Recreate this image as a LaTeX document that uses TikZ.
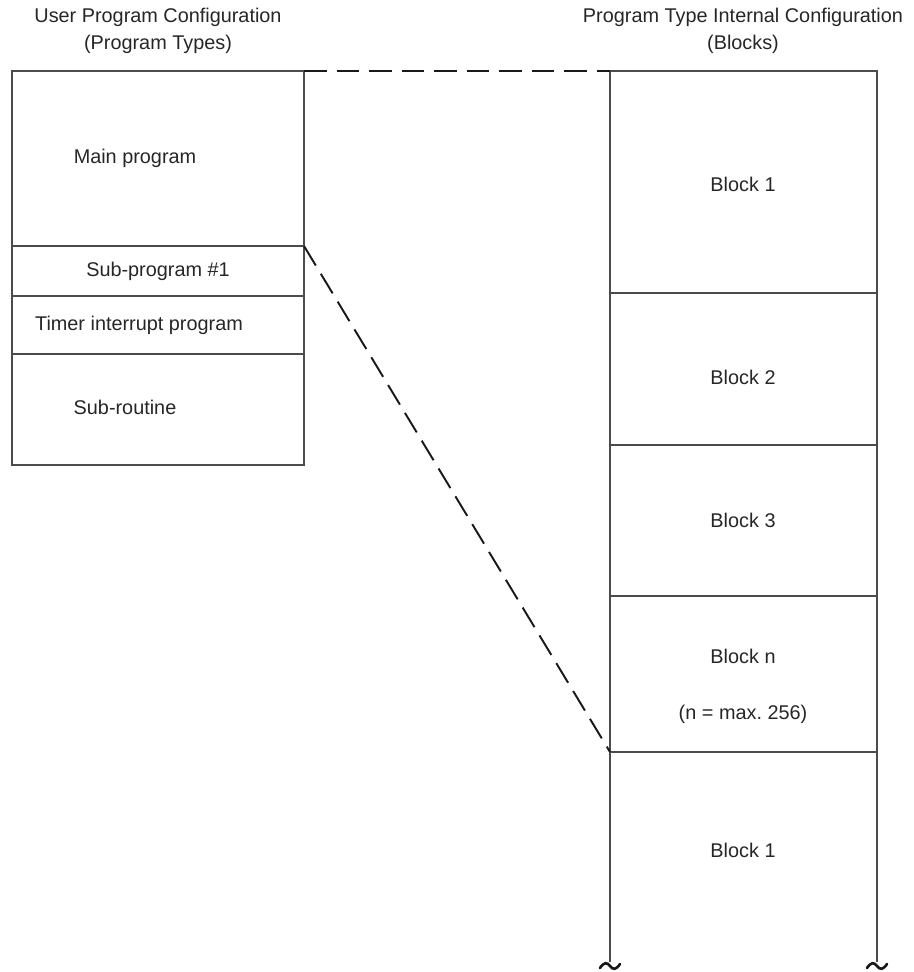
\documentclass[tikz,border=0pt]{standalone}
\usepackage{fontspec}
\setmainfont{Liberation Sans}

\tikzset{
  frame/.style={draw=black!70, line width=0.6pt},
  link/.style={draw=black!90, line width=1.1pt, dash pattern=on 13pt off 5.5pt},
  lbl/.style={font=\fontsize{11.3}{15.3}\selectfont, text=black!85, inner sep=0pt},
  cut/.style={draw=black!90, line width=1.5pt, line cap=round},
}

\begin{document}
\begin{tikzpicture}[x=0.02cm,y=-0.02cm]
\useasboundingbox (0,0) rectangle (913,972);
% headings
\node[lbl, align=center] (lhead) at (158,31) {User Program Configuration\\(Program Types)};
\node[lbl, align=center] (rhead) at (743,31) {Program Type Internal Configuration\\(Blocks)};

% user program stack
\draw[frame] (12,71) rectangle (304,465);
\foreach \y in {246,296,354}
  \draw[frame] (12,\y) -- (304,\y);
\node[lbl] (main) at (135,158) {Main program};
\node[lbl] (sub1) at (158,271) {Sub-program \#1};
\node[lbl] (timer) at (139,325) {Timer interrupt program};
\node[lbl] (subr) at (125,407) {Sub-routine};

% block stack, open at the bottom
\draw[frame] (610,962) -- (610,71) -- (877,71) -- (877,962);
\foreach \y in {293,445,596,752}
  \draw[frame] (610,\y) -- (877,\y);
\node[lbl] (blk1) at (743,184) {Block 1};
\node[lbl] (blk2) at (743,377) {Block 2};
\node[lbl] (blk3) at (743,520) {Block 3};
\node[lbl] (blkn) at (743,656) {Block n};
\node[lbl] (nmax) at (743,714) {(n = max.\ 256)};
\node[lbl] (blk1b) at (743,850) {Block 1};
% break marks
\foreach \x in {610,877}
  \draw[cut] (\x-10,968) .. controls (\x-6,962) and (\x-3,962) .. (\x,966)
    .. controls (\x+3,970) and (\x+6,970) .. (\x+10,964);

% expansion lines
\coordinate (mainNE) at (304,71);
\coordinate (subNE) at (304,246);
\coordinate (blkNW) at (610,71);
\coordinate (blknSW) at (610,752);
\draw[link] (mainNE) -- (blkNW);
\draw[link] (subNE) -- (blknSW);
\end{tikzpicture}
\end{document}
